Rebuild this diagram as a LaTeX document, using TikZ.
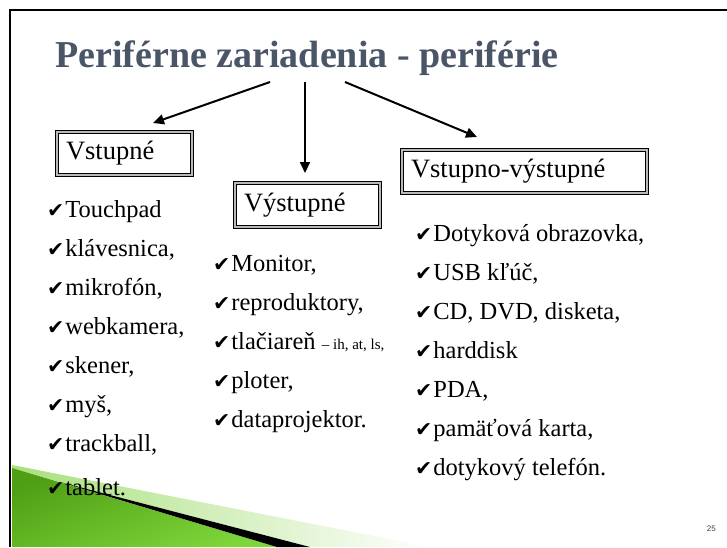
\documentclass[tikz,border=0pt]{standalone}
\usepackage{fontspec}
\setmainfont{Liberation Serif}
\newfontfamily\symfont{DejaVu Sans}
\newfontfamily\pgnfont{Liberation Sans}
\usetikzlibrary{arrows.meta}
\definecolor{titlecol}{HTML}{4A5568}
\definecolor{grA}{HTML}{4F9E14}
\definecolor{grB}{HTML}{7ED63A}
\definecolor{grL}{HTML}{A9E07C}
\newcommand{\ck}{{\symfont\fontsize{20.5}{20}\selectfont ✔}\hspace{1pt}}
\tikzset{
  itemtxt/.style={anchor=base west, inner sep=0pt, font=\fontsize{24.5}{28}\selectfont},
  hdrbox/.style={draw=black, line width=1pt, double=gray!55, double distance=1.5pt,
     inner xsep=9pt, inner ysep=0pt, align=left, font=\fontsize{26.5}{28}\selectfont},
  arr/.style={line width=2pt, -{Triangle[length=11pt,width=10pt]}},
  frameln/.style={line width=2.5pt, black}
}
\begin{document}
\begin{tikzpicture}[x=1pt,y=-1pt]
\useasboundingbox (0,0) rectangle (727,547);
\fill[white] (0,0) rectangle (727,547);
% decorative wedge
\shade[left color=grL, right color=white] (12,465) -- (430,547) -- (310,547) -- (60,482) -- (12,468) -- cycle;
\shade[top color=grA, bottom color=grB, shading angle=20] (12,468) -- (277,547) -- (12,547) -- cycle;
\fill[black] (60,482) -- (310,547) -- (277,547) -- cycle;
% frame
\draw[frameln] (10,547) -- (10,10) -- (727,10);
% title
\node[anchor=base west, inner sep=0pt, text=titlecol, font=\fontsize{38}{40}\selectfont\bfseries] (title) at (55,67) {Periférne zariadenia - periférie};
% header boxes
\node[hdrbox, minimum width=135pt, minimum height=43pt, text width=117pt] (vst) at (124.5,153.5) {Vstupné};
\node[hdrbox, minimum width=145pt, minimum height=44pt, text width=127pt] (vyst) at (307.5,205) {Výstupné};
\node[hdrbox, minimum width=245pt, minimum height=43pt, text width=227pt] (vv) at (524.5,171.5) {Vstupno-výstupné};
% arrows
\coordinate (s1) at (270,82);
\coordinate (s2) at (305,82);
\coordinate (s3) at (345,82);
\coordinate (t1) at (153,123);
\coordinate (t2) at (305,173);
\coordinate (t3) at (477,137);
\draw[arr] (s1) -- (t1);
\draw[arr] (s2) -- (t2);
\draw[arr] (s3) -- (t3);
% left list
\node[itemtxt] (l1) at (47,217) {\ck Touchpad};
\node[itemtxt] (l2) at (47,256) {\ck klávesnica,};
\node[itemtxt] (l3) at (47,295) {\ck mikrofón,};
\node[itemtxt] (l4) at (47,334) {\ck webkamera,};
\node[itemtxt] (l5) at (47,373) {\ck skener,};
\node[itemtxt] (l6) at (47,412) {\ck myš,};
\node[itemtxt] (l7) at (47,451) {\ck trackball,};
\node[itemtxt] (l8) at (47,495) {\ck tablet.};
% middle list
\node[itemtxt] (m1) at (213,271) {\ck Monitor,};
\node[itemtxt] (m2) at (213,310) {\ck reproduktory,};
\node[itemtxt] (m3) at (213,349) {\ck tlačiareň {\fontsize{15}{16}\selectfont – ih, at, ls,}};
\node[itemtxt] (m4) at (213,388) {\ck ploter,};
\node[itemtxt] (m5) at (213,427) {\ck dataprojektor.};
% right list
\node[itemtxt] (r1) at (415,241) {\ck Dotyková obrazovka,};
\node[itemtxt] (r2) at (415,280) {\ck USB kľúč,};
\node[itemtxt] (r3) at (415,319) {\ck CD, DVD, disketa,};
\node[itemtxt] (r4) at (415,358) {\ck harddisk};
\node[itemtxt] (r5) at (415,397) {\ck PDA,};
\node[itemtxt] (r6) at (415,436) {\ck pamäťová karta,};
\node[itemtxt] (r7) at (415,475) {\ck dotykový telefón.};
% page number
\node[anchor=base east, inner sep=0pt, text=black!75, font=\pgnfont\fontsize{8}{9}\selectfont] (pg) at (716,531) {25};
\end{tikzpicture}
\end{document}
